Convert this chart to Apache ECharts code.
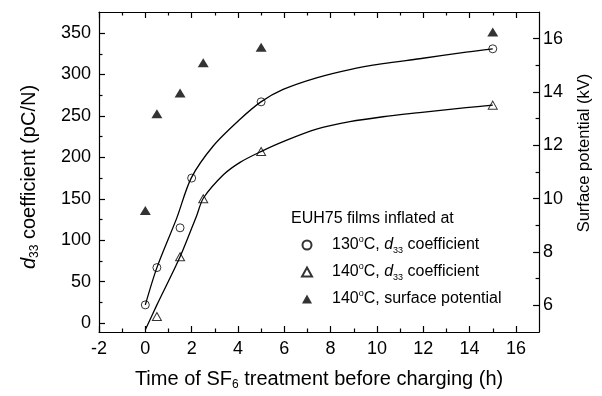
<!DOCTYPE html>
<html><head><meta charset="utf-8">
<script src="https://cdn.jsdelivr.net/npm/echarts@6/dist/echarts.min.js"></script>
<style>html,body{margin:0;padding:0;background:#fff}#c{width:602px;height:396px}</style>
</head><body><div id="c"></div>
<script>
// ---- data ----
const timeCircle = [0, 0.5, 1.5, 2, 5, 15];
const d33At130 = [22, 67, 115, 175, 267, 331];
const timeTriangle = [0.5, 1.5, 2.5, 5, 15];
const d33At140 = [8, 80, 150, 207, 263];
const timePotential = [0, 0.5, 1.5, 2.5, 5, 15];
const potentialAt140 = [9.56, 13.18, 13.96, 15.10, 15.68, 16.25];
const fit130Time = [0, 0.5, 1.36, 1.98, 2.94, 4.09, 4.99, 5.95, 7.39, 8.83, 10.26, 11.84, 13.85, 15];
const fit130Value = [22, 67, 127, 175, 214, 246, 267, 282, 296, 306, 313, 319, 327, 331];
const fit140Time = [0, 0.5, 1.5, 2.22, 2.51, 3.37, 4.09, 4.99, 5.95, 7.39, 8.83, 10.26, 11.84, 13.85, 15];
const fit140Value = [-8, 22, 80, 130, 151, 179, 194, 207, 219, 234, 243, 249, 254, 260, 263];
const xTickLabels = [-2, 0, 2, 4, 6, 8, 10, 12, 14, 16];
const xMinorTicks = [-1, 1, 3, 5, 7, 9, 11, 13, 15];
const leftTickLabels = [0, 50, 100, 150, 200, 250, 300, 350];
const leftMinorTicks = [25, 75, 125, 175, 225, 275, 325];
const rightTickLabels = [6, 8, 10, 12, 14, 16];
const rightMinorTicks = [7, 9, 11, 13, 15];
const legendNames = ['130°C d33', '140°C d33', '140°C potential'];

const FONT = 'Liberation Sans, Arial, sans-serif';
const zip = (a, b) => a.map((v, i) => [v, b[i]]);
const X_RANGE = [-2, 17], LEFT_RANGE = [-10.7, 375.4], RIGHT_RANGE = [5, 17];

// main axis: line (+ labels, name), no ticks
function mainAxis(pos, range, labels, margin, extra) {
  return Object.assign({
    type: 'value', position: pos, min: range[0], max: range[1],
    axisLine: { show: true, onZero: false, lineStyle: { color: '#000', width: 1.2 } },
    axisTick: { show: false },
    axisLabel: labels ? { show: true, customValues: labels, color: '#000', fontSize: 18, fontFamily: FONT, margin: margin } : { show: false },
    splitLine: { show: false }, minorTick: { show: false }
  }, extra || {});
}
// tick-only axis shifted into the plot so its outward ticks end on the frame
function tickAxis(pos, range, ticks, len) {
  return {
    type: 'value', position: pos, min: range[0], max: range[1], offset: -len,
    axisLine: { show: false, onZero: false },
    axisTick: { show: true, length: len, customValues: ticks, lineStyle: { color: '#000', width: 1.2 } },
    axisLabel: { show: false }, splitLine: { show: false }, minorTick: { show: false }
  };
}

function rich(size, subSize) {
  return {
    it: { fontStyle: 'italic', fontSize: size, fontFamily: FONT, color: '#000', lineHeight: size + 4 },
    sub: { fontSize: subSize, fontFamily: FONT, color: '#000', lineHeight: subSize, verticalAlign: 'bottom' },
    sup: { fontSize: subSize, fontFamily: FONT, color: '#000', lineHeight: subSize, verticalAlign: 'top' }
  };
}

const chart = echarts.init(document.getElementById('c'), null, { renderer: 'canvas' });
const option = {
  animation: false,
  backgroundColor: '#fff',
  grid: { left: 99, right: 62, top: 12, bottom: 60, containLabel: false },
  xAxis: [
    mainAxis('bottom', X_RANGE, xTickLabels, 8, {
      name: 'Time of SF{sub|6} treatment before charging (h)', nameLocation: 'middle', nameGap: 35,
      nameTextStyle: { fontSize: 20, fontFamily: FONT, color: '#000', lineHeight: 24, rich: rich(20, 12) }
    }),
    tickAxis('bottom', X_RANGE, xTickLabels, 6),
    tickAxis('bottom', X_RANGE, xMinorTicks, 3.5),
    mainAxis('top', X_RANGE, null),
    tickAxis('top', X_RANGE, xTickLabels, 6),
    tickAxis('top', X_RANGE, xMinorTicks, 3.5)
  ],
  yAxis: [
    mainAxis('left', LEFT_RANGE, leftTickLabels, 8, {
      name: '{it|d}{sub|33} coefficient (pC/N)', nameLocation: 'middle', nameGap: 58, nameRotate: 90,
      nameTextStyle: { fontSize: 20, fontFamily: FONT, color: '#000', lineHeight: 24, padding: [0, 10, 0, 0], rich: rich(20, 12) }
    }),
    tickAxis('left', LEFT_RANGE, leftTickLabels, 6),
    tickAxis('left', LEFT_RANGE, leftMinorTicks, 3.5),
    mainAxis('right', RIGHT_RANGE, rightTickLabels, 4, {
      name: 'Surface potential (kV)', nameLocation: 'middle', nameGap: 34, nameRotate: 90,
      nameTextStyle: { fontSize: 16.5, fontFamily: FONT, color: '#000', lineHeight: 20, padding: [0, 0, 0, 38] }
    }),
    tickAxis('right', RIGHT_RANGE, rightTickLabels, 6),
    tickAxis('right', RIGHT_RANGE, rightMinorTicks, 3.5)
  ],
  legend: {
    orient: 'vertical', left: 296, top: 230, itemWidth: 10, itemHeight: 9, itemGap: 7,
    data: legendNames,
    textStyle: { fontSize: 16, fontFamily: FONT, color: '#000', lineHeight: 20, padding: [0, 0, 0, 15], rich: rich(16, 9) },
    formatter: function (n) {
      if (n === legendNames[0]) return '130{sup|o}C, {it|d}{sub|33} coefficient';
      if (n === legendNames[1]) return '140{sup|o}C, {it|d}{sub|33} coefficient';
      return '140{sup|o}C, surface potential';
    }
  },
  graphic: [{
    type: 'text', left: 291, top: 211,
    style: { text: 'EUH75 films inflated at', font: '16px ' + FONT, fill: '#000' }
  }],
  series: [
    { type: 'line', xAxisIndex: 0, yAxisIndex: 0, data: zip(fit130Time, fit130Value), symbol: 'none', smooth: 0.3,
      lineStyle: { color: '#000', width: 1.3 }, silent: true, z: 1 },
    { type: 'line', xAxisIndex: 0, yAxisIndex: 0, data: zip(fit140Time, fit140Value), symbol: 'none', smooth: 0.3,
      lineStyle: { color: '#000', width: 1.3 }, silent: true, z: 1 },
    { name: legendNames[0], type: 'scatter', xAxisIndex: 0, yAxisIndex: 0, data: zip(timeCircle, d33At130),
      symbol: 'circle', symbolSize: 8, itemStyle: { color: 'rgba(255,255,255,0)', borderColor: '#000', borderWidth: 1 }, z: 3 },
    { name: legendNames[1], type: 'scatter', xAxisIndex: 0, yAxisIndex: 0, data: zip(timeTriangle, d33At140),
      symbol: 'triangle', symbolSize: [9, 8], itemStyle: { color: 'rgba(255,255,255,0)', borderColor: '#000', borderWidth: 1 }, z: 3 },
    { name: legendNames[2], type: 'scatter', xAxisIndex: 0, yAxisIndex: 3, data: zip(timePotential, potentialAt140),
      symbol: 'triangle', symbolSize: [11, 9], itemStyle: { color: '#000' }, z: 3 }
  ]
};
chart.setOption(option);
</script>
</body></html>
